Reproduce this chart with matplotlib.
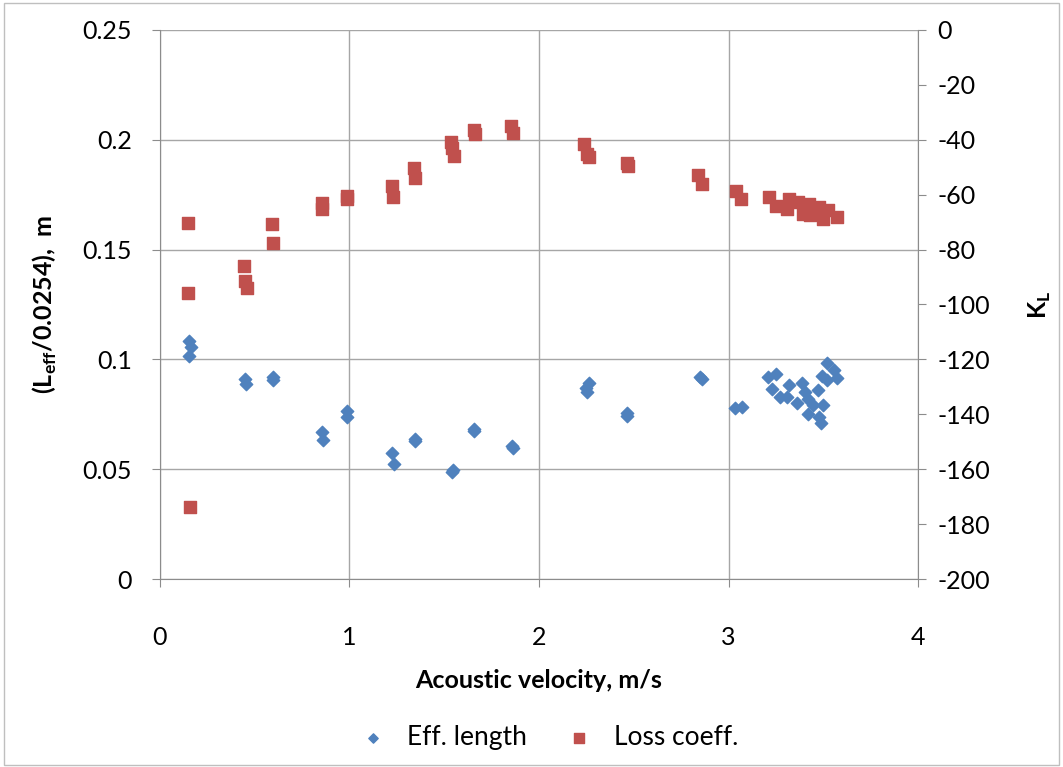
import matplotlib.pyplot as plt
from matplotlib.patches import Rectangle
from matplotlib.ticker import FuncFormatter

plt.rcParams['font.family'] = ['Lato', 'DejaVu Sans']
plt.rcParams['axes.unicode_minus'] = False
plt.rcParams['mathtext.fontset'] = 'custom'
plt.rcParams['mathtext.rm'] = 'Lato'
plt.rcParams['mathtext.bf'] = 'Lato:bold'

# effective length (left axis)
eff_v = [0.151, 0.162, 0.151, 0.449, 0.454, 0.596, 0.596, 0.855, 0.859, 0.988, 0.987,
         1.224, 1.233, 1.347, 1.345, 1.543, 1.547, 1.657, 1.657, 1.861, 1.858,
         2.248, 2.266, 2.252, 2.463, 2.463, 2.850, 2.860, 3.036, 3.070,
         3.210, 3.251, 3.228, 3.272, 3.318, 3.307, 3.360, 3.388, 3.404, 3.421,
         3.418, 3.471, 3.444, 3.500, 3.479, 3.488, 3.518, 3.492, 3.518, 3.557, 3.571]
eff_len = [0.1082, 0.1058, 0.1015, 0.0912, 0.0888, 0.0921, 0.0906, 0.0671, 0.0633, 0.0765, 0.0736,
           0.0575, 0.0525, 0.0628, 0.0638, 0.0489, 0.0495, 0.0674, 0.0682, 0.0598, 0.0605,
           0.0868, 0.0894, 0.0853, 0.0744, 0.0758, 0.0921, 0.0909, 0.0779, 0.0782,
           0.0918, 0.0933, 0.0864, 0.0827, 0.0883, 0.0830, 0.0800, 0.0891, 0.0853, 0.0818,
           0.0751, 0.0861, 0.0792, 0.0792, 0.0739, 0.0712, 0.0982, 0.0924, 0.0906, 0.0952, 0.0914]

# loss coefficient (right axis)
loss_v = [0.149, 0.149, 0.158, 0.445, 0.450, 0.457, 0.591, 0.598, 0.853, 0.855, 0.987, 0.987,
          1.223, 1.231, 1.340, 1.344, 1.534, 1.541, 1.551, 1.655, 1.661, 1.852, 1.863,
          2.236, 2.255, 2.262, 2.463, 2.468, 2.841, 2.862, 3.038, 3.066,
          3.212, 3.251, 3.307, 3.319, 3.368, 3.395, 3.426, 3.430, 3.479, 3.497, 3.523, 3.571]
loss_k = [-70.2, -95.7, -173.8, -85.9, -91.4, -94.1, -70.8, -77.5, -62.9, -65.1, -60.4, -61.7,
          -56.7, -60.9, -50.2, -53.8, -40.8, -42.9, -45.8, -36.3, -37.8, -35.0, -37.6,
          -41.4, -45.2, -46.4, -48.6, -49.4, -52.9, -56.0, -58.5, -61.5,
          -61.0, -64.1, -65.2, -61.6, -62.7, -67.1, -63.4, -67.4, -64.4, -68.7, -65.6, -68.2]

x_ticks = [0, 1, 2, 3, 4]
left_ticks = [0, 0.05, 0.1, 0.15, 0.2, 0.25]
right_ticks = list(range(-200, 1, 20))

grey = '#8C8C8C'
fig = plt.figure(figsize=(10.63, 7.67), dpi=100)
fig.patches.append(Rectangle((0.004, 0.003), 0.992, 0.993, transform=fig.transFigure,
                             fill=False, edgecolor='#BFBFBF', linewidth=1))
ax = fig.add_axes([0.1505, 0.2451, 0.7131, 0.7158])
ax2 = ax.twinx()

ax.scatter(eff_v, eff_len, marker='D', s=40, color='#4F81BD', zorder=3, label='Eff. length')
ax2.scatter(loss_v, loss_k, marker='s', s=75, color='#C0504D', zorder=3, label='Loss coeff.')

ax.set_xlim(0, 4)
ax.set_ylim(0, 0.25)
ax2.set_ylim(-200, 0)
ax.set_xticks(x_ticks)
ax.set_yticks(left_ticks)
ax2.set_yticks(right_ticks)
ax.yaxis.set_major_formatter(FuncFormatter(lambda v, p: '%g' % v))
ax.grid(True, color='#A6A6A6', linewidth=1)
ax.set_axisbelow(True)

for a in (ax, ax2):
    a.spines['top'].set_visible(False)
    for s in ('left', 'right', 'bottom'):
        a.spines[s].set_color(grey)
    a.tick_params(colors=grey, labelcolor='black', labelsize=18, length=6, direction='out')
ax.spines['right'].set_visible(False)
ax2.spines['left'].set_visible(False)
ax2.spines['bottom'].set_visible(False)
ax.tick_params(axis='y', pad=14)
ax.tick_params(axis='x', pad=28)
ax2.tick_params(axis='y', pad=8)

ax.set_xlabel('Acoustic velocity, m/s', fontsize=18, fontweight='bold', labelpad=14)
ax.set_ylabel(r'(L$_{\mathbf{eff}}$/0.0254),  m', fontsize=18, fontweight='bold', labelpad=17)
ax2.set_ylabel(r'K$_{\mathbf{L}}$', fontsize=18, fontweight='bold', labelpad=26)

h1, l1 = ax.get_legend_handles_labels()
h2, l2 = ax2.get_legend_handles_labels()
fig.legend(h1 + h2, l1 + l2, loc='center', bbox_to_anchor=(0.51, 0.039), ncol=2,
           frameon=False, fontsize=19, handletextpad=0.3, columnspacing=1.0, markerscale=0.75)

fig.savefig('out.png', dpi=100)
